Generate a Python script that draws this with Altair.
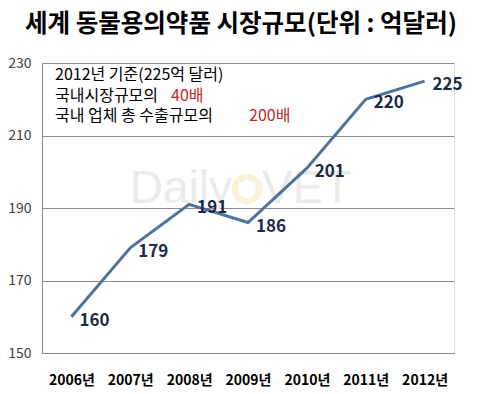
import altair as alt
import pandas as pd

years = ["2006년", "2007년", "2008년", "2009년", "2010년", "2011년", "2012년"]
values = [160, 179, 191, 186, 201, 220, 225]
y_ticks = [150, 170, 190, 210, 230]

title_text = "세계 동물용의약품 시장규모(단위 : 억달러)"
note_line1 = "2012년 기준(225억 달러)"
note_line2 = "국내시장규모의"
note_line2_red = "40배"
note_line3 = "국내 업체 총 수출규모의"
note_line3_red = "200배"

FONT = "Noto Sans CJK KR"
df = pd.DataFrame({"year": years, "value": values})
one = pd.DataFrame({"a": [0]})

x_enc = alt.X("year:N", sort=years, title=None,
              scale=alt.Scale(type="point", padding=0.5),
              axis=alt.Axis(labelAngle=0, labelFont=FONT, labelFontSize=14,
                            labelFontWeight="bold", labelColor="#000000",
                            labelPadding=20, ticks=False, grid=False,
                            domain=True, domainColor="#8c8c8c", domainWidth=1))
y_enc = alt.Y("value:Q", title=None,
              scale=alt.Scale(domain=[150, 230], nice=False, zero=False),
              axis=alt.Axis(values=y_ticks, labelFont=FONT, labelFontSize=14,
                            labelColor="#404040", labelPadding=11, ticks=False,
                            grid=True, gridColor="#8c8c8c", gridWidth=1,
                            domain=True, domainColor="#8c8c8c", domainWidth=1))

base = alt.Chart(df)

watermark1 = alt.Chart(one).mark_text(
    text="Daily", font="Liberation Sans", fontSize=46, color="#ebebeb",
    align="right", baseline="middle"
).encode(x=alt.value(190), y=alt.value(126))
watermark2 = alt.Chart(one).mark_text(
    text="VET", font="Liberation Sans", fontSize=46, color="#ebebeb",
    align="left", baseline="middle"
).encode(x=alt.value(220), y=alt.value(126))
ring = alt.Chart(one).mark_point(
    shape="circle", size=600, color="#f7eec8", strokeWidth=6, filled=False
).encode(x=alt.value(205), y=alt.value(126))

line = base.mark_line(color="#4E739E", strokeWidth=3).encode(x=x_enc, y=y_enc)
labels = base.mark_text(dx=23, dy=4, fontSize=17, fontWeight="bold",
                        font=FONT, color="#1B2A4A").encode(
    x=x_enc, y=y_enc, text="value:Q")

title = alt.Chart(one).mark_text(
    text=title_text, font=FONT, fontSize=24.5, fontWeight="bold", color="#000000",
    align="center", baseline="middle"
).encode(x=alt.value(199), y=alt.value(-38))

def note(txt, x, y, color="#000000"):
    return alt.Chart(one).mark_text(
        text=txt, font=FONT, fontSize=16, color=color,
        align="left", baseline="middle"
    ).encode(x=alt.value(x), y=alt.value(y))

notes = [
    note(note_line1, 13, 12),
    note(note_line2, 13, 33),
    note(note_line2_red, 129, 33, "#C0272D"),
    note(note_line3, 13, 53),
    note(note_line3_red, 207, 53, "#C0272D"),
]

chart = alt.layer(
    watermark1, watermark2, ring, line, labels, title, *notes
).properties(
    width=412, height=290,
    autosize=alt.AutoSizeParams(type="none"),
    padding={"left": 34, "top": 55, "right": 19, "bottom": 40},
).configure_view(stroke=None).configure(background="white")

chart.save("out.html", embed_options={"renderer": "svg", "actions": False})
